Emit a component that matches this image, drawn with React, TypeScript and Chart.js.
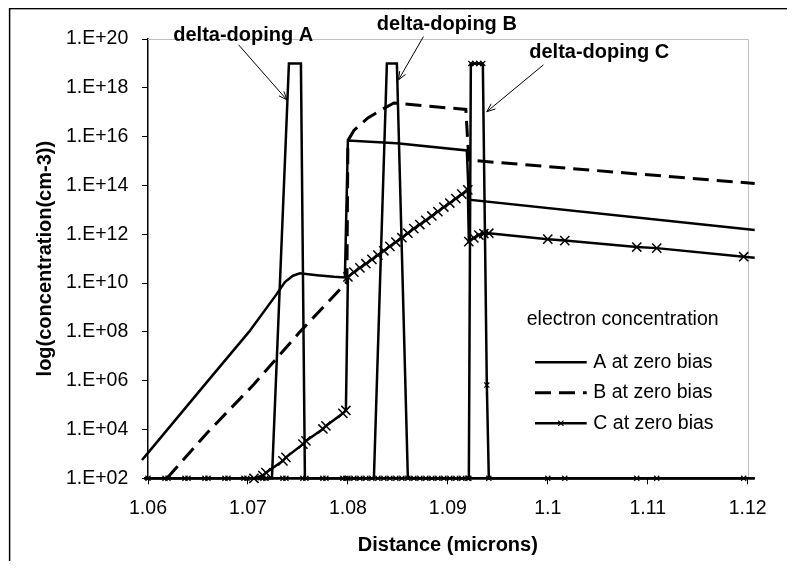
import React, { useEffect, useRef } from "react";
import { Chart, registerables } from "chart.js";

Chart.register(...registerables);

const FONT_FAMILY = '"Liberation Sans", Arial, Helvetica, sans-serif';

// Delta-doping profiles (cm-3) along the distance axis (microns)
const aDopingX = [1.0596, 1.0724, 1.0741, 1.0753, 1.0757, 1.1207];
const aDopingN = [1e2, 1e2, 1e19, 1e19, 1e2, 1e2];

const bDopingX = [1.0596, 1.0826, 1.0839, 1.0849, 1.086, 1.1207];
const bDopingN = [1e2, 1e2, 1e19, 1e19, 1e2, 1e2];

const cDopingX = [
  1.0597, 1.06, 1.0617, 1.062, 1.0637, 1.064, 1.0657, 1.066, 1.0677, 1.068, 1.0696,
  1.0699, 1.0715, 1.0718, 1.0735, 1.0738, 1.0755, 1.0758, 1.0775, 1.0778, 1.0795, 1.0798,
  1.08, 1.0806, 1.0812, 1.0818, 1.0824, 1.083, 1.0836, 1.0842, 1.0848, 1.0854, 1.086,
  1.0866, 1.0872, 1.0878, 1.0884, 1.089, 1.0896, 1.0902, 1.0908, 1.0914, 1.092,
  1.0921, 1.0923, 1.0927, 1.0931, 1.0935, 1.0939, 1.0941,
  1.1, 1.1017, 1.1089, 1.1109, 1.1196,
];
const cDopingN = [
  1e2, 1e2, 1e2, 1e2, 1e2, 1e2, 1e2, 1e2, 1e2, 1e2, 1e2,
  1e2, 1e2, 1e2, 1e2, 1e2, 1e2, 1e2, 1e2, 1e2, 1e2, 1e2,
  1e2, 1e2, 1e2, 1e2, 1e2, 1e2, 1e2, 1e2, 1e2, 1e2, 1e2,
  1e2, 1e2, 1e2, 1e2, 1e2, 1e2, 1e2, 1e2, 1e2, 1e2,
  1e2, 1e19, 1e19, 1e19, 1e19, 6.6e5, 1e2,
  1e2, 1e2, 1e2, 1e2, 1e2,
];

// Electron concentration at zero bias (cm-3)
const aElectronX = [
  1.0594, 1.06, 1.0661, 1.0701, 1.0728, 1.0737, 1.0745, 1.0752, 1.0769, 1.0786, 1.0797,
  1.08, 1.0849, 1.0919, 1.0921, 1.1207,
];
const aElectronN = [
  5.6e2, 1.1e3, 1.1e6, 1.0e8, 3.2e9, 1.1e10, 2.0e10, 2.5e10, 2.1e10, 1.8e10, 1.7e10,
  6.9e15, 5.4e15, 2.7e15, 2.6e13, 1.5e12,
];

const bElectronX = [
  1.0619, 1.066, 1.0706, 1.0752, 1.0799, 1.08, 1.0806, 1.082, 1.0834, 1.0846, 1.086,
  1.0918, 1.0921, 1.0947, 1.1207,
];
const bElectronN = [
  1.0e2, 7.9e3, 7.1e5, 1.0e8, 1.1e10, 6.9e15, 1.8e16, 5.8e16, 1.3e17, 2.4e17, 2.1e17,
  1.3e17, 1.1e15, 8.9e14, 1.2e14,
];

const cElectronX = [
  1.0706, 1.0715, 1.0718, 1.0735, 1.0738, 1.0755, 1.0758, 1.0775, 1.0778, 1.0795, 1.0798,
  1.08, 1.0806, 1.0812, 1.0818, 1.0824, 1.083, 1.0836, 1.0842, 1.0848, 1.0854, 1.086,
  1.0866, 1.0872, 1.0878, 1.0884, 1.089, 1.0896, 1.0902, 1.0908, 1.0914, 1.092,
  1.0921, 1.0926, 1.0931, 1.0936, 1.0941,
  1.1, 1.1017, 1.1089, 1.1109, 1.1196, 1.1207,
];
const cElectronN = [
  1.0e2, 1.3e2, 1.7e2, 5.2e2, 7.2e2, 2.5e3, 3.4e3, 1.05e4, 1.4e4, 4.6e4, 6.0e4,
  1.8e10, 2.8e10, 4.2e10, 6.2e10, 9.3e10, 1.4e11, 2.1e11, 3.2e11, 4.8e11, 7.2e11, 1.1e12,
  1.7e12, 2.5e12, 3.7e12, 5.6e12, 8.5e12, 1.3e13, 1.9e13, 2.9e13, 4.4e13, 6.6e13,
  5.0e11, 7.1e11, 9.3e11, 1.07e12, 1.1e12,
  6.3e11, 5.5e11, 3.0e11, 2.7e11, 1.2e11, 1.1e11,
];

// Axes
const xMin = 1.06;
const xMax = 1.12;
const xTickValues = [1.06, 1.07, 1.08, 1.09, 1.1, 1.11, 1.12];
const xTickLabels = ["1.06", "1.07", "1.08", "1.09", "1.1", "1.11", "1.12"];
const yMin = 1e2;
const yMax = 1e20;
const yTickValues = [1e2, 1e4, 1e6, 1e8, 1e10, 1e12, 1e14, 1e16, 1e18, 1e20];
const yTickLabels = [
  "1.E+02", "1.E+04", "1.E+06", "1.E+08", "1.E+10",
  "1.E+12", "1.E+14", "1.E+16", "1.E+18", "1.E+20",
];
const xTitle = "Distance (microns)";
const yTitle = "log(concentration(cm-3))";

const keyTitle = "electron concentration";
const seriesNames = ["A at zero bias", "B at zero bias", "C at zero bias"];

// Call-outs for the doping spikes, anchored in data units (x in microns, y in cm-3)
const dopingNotes = [
  { label: "delta-doping A", text: [1.06953, 1.34e20], tail: [1.06906, 5.8e19], head: [1.0739, 3.2e17] },
  { label: "delta-doping B", text: [1.0899, 4.1e20], tail: [1.08756, 1.26e20], head: [1.08506, 2.1e18] },
  { label: "delta-doping C", text: [1.10515, 2.8e19], tail: [1.09956, 8.7e18], head: [1.0939, 1.05e17] },
];

const pts = (xs: number[], ns: number[]) => xs.map((x, i) => ({ x, y: ns[i] }));
const inRange = (x: number) => x >= xMin - 1e-9 && x <= xMax + 1e-9;
const markerRadius = (r: number) => (ctx: any) => {
  const x = ctx.raw && ctx.raw.x;
  return typeof x === "number" && inRange(x) ? r : 0;
};

function drawArrow(ctx: CanvasRenderingContext2D, x1: number, y1: number, x2: number, y2: number) {
  const ang = Math.atan2(y2 - y1, x2 - x1);
  const len = 9;
  const spread = 0.38;
  ctx.beginPath();
  ctx.moveTo(x1, y1);
  ctx.lineTo(x2, y2);
  ctx.moveTo(x2 - len * Math.cos(ang - spread), y2 - len * Math.sin(ang - spread));
  ctx.lineTo(x2, y2);
  ctx.lineTo(x2 - len * Math.cos(ang + spread), y2 - len * Math.sin(ang + spread));
  ctx.stroke();
}

const framePlugin = {
  id: "plotFrame",
  beforeDatasetsDraw(chart: any) {
    const { ctx, chartArea: a, width, height } = chart;
    ctx.save();
    ctx.strokeStyle = "#c0c0c0";
    ctx.lineWidth = 1;
    const t = Math.round(a.top) + 0.5;
    const r = Math.round(a.right) + 0.5;
    ctx.beginPath();
    ctx.moveTo(a.left, t);
    ctx.lineTo(r, t);
    ctx.lineTo(r, a.bottom);
    ctx.stroke();
    ctx.strokeStyle = "#000";
    ctx.lineWidth = 1.5;
    ctx.strokeRect(1.6, 0.6, width + 20, height + 20);
    ctx.restore();
  },
};

const notesPlugin = {
  id: "dopingNotes",
  afterDatasetsDraw(chart: any) {
    const { ctx, scales } = chart;
    const sx = scales.x;
    const sy = scales.y;
    ctx.save();
    ctx.fillStyle = "#000";
    ctx.strokeStyle = "#000";
    ctx.lineWidth = 1;
    ctx.font = `bold 20px ${FONT_FAMILY}`;
    ctx.textAlign = "center";
    ctx.textBaseline = "middle";
    dopingNotes.forEach((n) => {
      ctx.fillText(n.label, sx.getPixelForValue(n.text[0]), sy.getPixelForValue(n.text[1]));
      drawArrow(
        ctx,
        sx.getPixelForValue(n.tail[0]),
        sy.getPixelForValue(n.tail[1]),
        sx.getPixelForValue(n.head[0]),
        sy.getPixelForValue(n.head[1])
      );
    });
    ctx.restore();
  },
};

const keyPlugin = {
  id: "electronKey",
  afterDatasetsDraw(chart: any) {
    const { ctx, chartArea: a } = chart;
    const datasets = chart.data.datasets.slice(3);
    ctx.save();
    ctx.fillStyle = "#000";
    ctx.strokeStyle = "#000";
    ctx.font = `19.5px ${FONT_FAMILY}`;
    ctx.textAlign = "left";
    ctx.textBaseline = "middle";
    ctx.fillText(keyTitle, a.left + 378.7, a.top + 280.3);
    datasets.forEach((ds: any, i: number) => {
      const y = a.top + 323.3 + i * 30.5;
      const x0 = a.left + 387;
      const x1 = a.left + 438.7;
      ctx.save();
      ctx.lineWidth = ds.borderWidth;
      ctx.setLineDash(ds.borderDash || []);
      ctx.beginPath();
      ctx.moveTo(x0, y);
      ctx.lineTo(x1, y);
      ctx.stroke();
      ctx.restore();
      if (ds.pointStyle === "crossRot") {
        const m = (x0 + x1) / 2;
        const h = 2.6;
        ctx.lineWidth = 1.2;
        ctx.beginPath();
        ctx.moveTo(m - h, y - h);
        ctx.lineTo(m + h, y + h);
        ctx.moveTo(m - h, y + h);
        ctx.lineTo(m + h, y - h);
        ctx.stroke();
      }
      ctx.fillText(seriesNames[i], a.left + 445.3, y);
    });
    ctx.restore();
  },
};

const base = {
  showLine: true,
  fill: false,
  tension: 0,
  clip: false as const,
  borderColor: "#000",
  backgroundColor: "#000",
  pointBorderColor: "#000",
  pointBackgroundColor: "#000",
  pointHoverRadius: 0,
};

export default function App() {
  const ref = useRef<HTMLCanvasElement>(null);

  useEffect(() => {
    if (!ref.current) return;
    const tickFont = { family: FONT_FAMILY, size: 19.5 };
    const titleFont = { family: FONT_FAMILY, size: 20, weight: "bold" as const };
    const chart = new Chart(ref.current, {
      type: "scatter",
      data: {
        datasets: [
          { ...base, label: "doping A", data: pts(aDopingX, aDopingN), borderWidth: 2.5, pointRadius: 0 },
          { ...base, label: "doping B", data: pts(bDopingX, bDopingN), borderWidth: 2.5, pointRadius: 0 },
          {
            ...base,
            label: "doping C",
            data: pts(cDopingX, cDopingN),
            borderWidth: 2.5,
            pointStyle: "crossRot",
            pointRadius: markerRadius(3.6),
            pointBorderWidth: 1.2,
          },
          { ...base, label: seriesNames[0], data: pts(aElectronX, aElectronN), borderWidth: 2.5, pointRadius: 0 },
          {
            ...base,
            label: seriesNames[1],
            data: pts(bElectronX, bElectronN),
            borderWidth: 3,
            borderDash: [16, 8],
            pointRadius: 0,
          },
          {
            ...base,
            label: seriesNames[2],
            data: pts(cElectronX, cElectronN),
            borderWidth: 2.5,
            pointStyle: "crossRot",
            pointRadius: markerRadius(6.5),
            pointBorderWidth: 1.5,
          },
        ] as any,
      },
      options: {
        responsive: false,
        animation: false,
        devicePixelRatio: 1,
        events: [],
        layout: { padding: { top: 31, right: 39.3, left: 0, bottom: 0 } },
        plugins: {
          legend: { display: false },
          tooltip: { enabled: false },
        },
        scales: {
          x: {
            type: "linear",
            min: xMin,
            max: xMax,
            afterBuildTicks: (s: any) => {
              s.ticks = xTickValues.map((value) => ({ value }));
            },
            afterFit: (s: any) => {
              s.height = 82.7;
            },
            ticks: {
              callback: (_v: any, i: number) => xTickLabels[i],
              font: tickFont,
              color: "#000",
              padding: 13,
              autoSkip: false,
              maxRotation: 0,
            },
            grid: {
              drawOnChartArea: false,
              drawTicks: true,
              tickLength: 6,
              color: "#000",
              tickColor: "#000",
              tickWidth: 1,
            },
            border: { display: true, color: "#000", width: 2 },
            title: {
              display: true,
              text: xTitle,
              font: titleFont,
              color: "#000",
              padding: { top: 0, bottom: 4 },
            },
          },
          y: {
            type: "logarithmic",
            min: yMin,
            max: yMax,
            afterBuildTicks: (s: any) => {
              s.ticks = yTickValues.map((value) => ({ value }));
            },
            afterFit: (s: any) => {
              s.width = 140;
            },
            ticks: {
              callback: (_v: any, i: number) => yTickLabels[i],
              font: tickFont,
              color: "#000",
              padding: 13.7,
              autoSkip: false,
            },
            grid: {
              drawOnChartArea: false,
              drawTicks: true,
              tickLength: 6,
              color: "#000",
              tickColor: "#000",
              tickWidth: 1,
            },
            border: { display: true, color: "#000", width: 1.5 },
            title: {
              display: true,
              text: yTitle,
              font: titleFont,
              color: "#000",
              padding: { top: 25.5, bottom: 0 },
            },
          },
        },
      } as any,
      plugins: [framePlugin, notesPlugin, keyPlugin],
    });
    return () => chart.destroy();
  }, []);

  return <canvas ref={ref} width={779} height={553} style={{ display: "block" }} />;
}
